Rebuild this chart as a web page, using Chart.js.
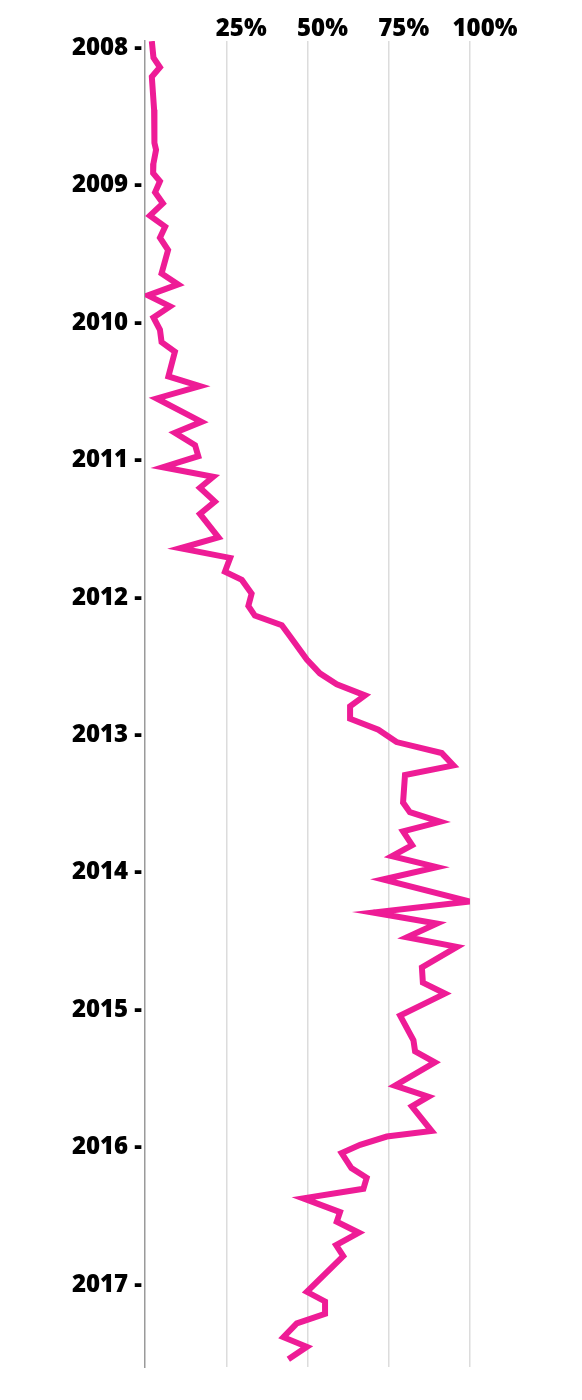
<!DOCTYPE html>
<html>
<head>
<meta charset="utf-8">
<script src="https://cdn.jsdelivr.net/npm/chart.js@4/dist/chart.umd.min.js"></script>
<style>
  html, body { margin: 0; padding: 0; background: #fff; }
  #wrap { width: 582px; height: 1400px; }
</style>
</head>
<body>
<div id="wrap"><canvas id="shareChart" width="582" height="1400"></canvas></div>
<script>
// time of each reading (decimal year) and the share at that time (%)
const dates = [
  2007.95, 2008.07, 2008.14, 2008.21, 2008.45, 2008.69, 2008.74, 2008.84, 2008.91, 2008.97,
  2009.05, 2009.13, 2009.22, 2009.30, 2009.38, 2009.47, 2009.64, 2009.72, 2009.80, 2009.88,
  2009.96, 2010.05, 2010.14, 2010.21, 2010.39, 2010.46, 2010.55, 2010.72, 2010.80, 2010.89,
  2010.97, 2011.05, 2011.12, 2011.20, 2011.30, 2011.39, 2011.56, 2011.64, 2011.71, 2011.81,
  2011.87, 2011.97, 2012.06, 2012.13, 2012.20, 2012.28, 2012.45, 2012.55, 2012.63, 2012.71,
  2012.79, 2012.88, 2012.96, 2013.05, 2013.13, 2013.22, 2013.29, 2013.49, 2013.56, 2013.63,
  2013.70, 2013.80, 2013.88, 2013.96, 2014.05, 2014.21, 2014.29, 2014.37, 2014.47, 2014.54,
  2014.69, 2014.80, 2014.88, 2015.04, 2015.22, 2015.30, 2015.38, 2015.55, 2015.63, 2015.70,
  2015.88, 2015.92, 2015.98, 2016.04, 2016.15, 2016.22, 2016.30, 2016.37, 2016.47, 2016.54,
  2016.62, 2016.71, 2016.79, 2017.05, 2017.12, 2017.21, 2017.28, 2017.38, 2017.45, 2017.54
];
const share = [
  2.1, 2.6, 4.6, 2.1, 2.8, 2.9, 3.4, 2.6, 2.5, 4.6,
  3.1, 5.5, 1.5, 6.2, 4.6, 7.1, 5.1, 10.2, 0.9, 7.7,
  2.6, 4.6, 5.1, 9.2, 7.2, 16.9, 3.6, 17.4, 9.2, 15.4,
  16.4, 5.5, 21.0, 16.9, 21.5, 16.9, 22.6, 10.8, 26.2, 24.6,
  29.8, 32.8, 31.8, 33.8, 42.1, 44.6, 49.8, 53.8, 59.0, 67.7,
  63.1, 63.1, 71.8, 77.4, 91.3, 94.9, 80.0, 79.4, 81.5, 90.8,
  79.4, 82.2, 76.0, 89.8, 73.2, 100, 70.2, 89.8, 80.6, 96.0,
  85.2, 85.5, 92.3, 78.5, 82.6, 83.1, 89.2, 76.9, 87.2, 82.1,
  88.2, 74.4, 66.2, 60.5, 63.5, 68.2, 67.2, 48.7, 60.0, 59.0,
  65.8, 58.8, 61.0, 49.8, 55.4, 55.4, 46.7, 42.6, 49.8, 44.1
];
const yearTicks = [2008, 2009, 2010, 2011, 2012, 2013, 2014, 2015, 2016, 2017];
const shareTicks = [0, 25, 50, 75, 100];

const points = dates.map((d, i) => ({ x: share[i], y: d }));
const labelFont = { family: '"Open Sans", sans-serif', size: 24, weight: 800 };

const ctx = document.getElementById('shareChart').getContext('2d');
new Chart(ctx, {
  type: 'line',
  data: {
    datasets: [{
      data: points,
      borderColor: '#ee1c96',
      borderWidth: 6,
      pointRadius: 0,
      tension: 0,
      fill: false
    }]
  },
  options: {
    indexAxis: 'y',
    responsive: false,
    animation: false,
    layout: { padding: { top: 0, right: 112, bottom: 33, left: 0 } },
    plugins: { legend: { display: false }, tooltip: { enabled: false } },
    scales: {
      x: {
        type: 'linear',
        position: 'top',
        min: 0,
        max: 100,
        afterBuildTicks: (scale) => { scale.ticks = shareTicks.map(v => ({ value: v })); },
        afterFit: (scale) => { scale.height = 41; },
        border: { display: false },
        grid: {
          drawTicks: false,
          lineWidth: 1.5,
          color: (c) => c.tick && c.tick.value === 0 ? 'rgba(0,0,0,0)' : '#dcdcdc'
        },
        ticks: {
          color: '#000',
          font: labelFont,
          padding: -3,
          labelOffset: 15,
          autoSkip: false,
          maxRotation: 0,
          callback: (v) => v === 0 ? '' : v + '%'
        }
      },
      y: {
        type: 'linear',
        reverse: true,
        min: 2007.949,
        max: 2017.597,
        afterBuildTicks: (scale) => { scale.ticks = yearTicks.map(v => ({ value: v })); },
        afterFit: (scale) => { scale.width = 145; },
        border: { display: true, color: '#9a9a9a', width: 1.5 },
        grid: { drawOnChartArea: false, drawTicks: false },
        ticks: {
          color: '#000',
          font: labelFont,
          padding: 3,
          autoSkip: false,
          callback: (v) => v + ' -'
        }
      }
    }
  }
});
</script>
</body>
</html>
